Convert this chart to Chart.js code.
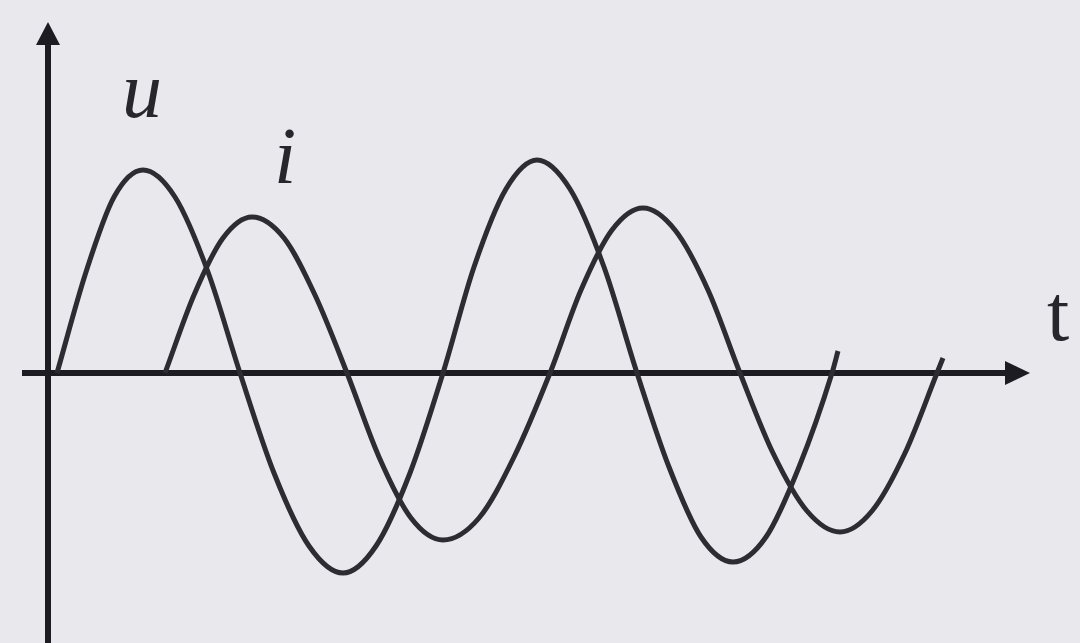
<!DOCTYPE html>
<html>
<head>
<meta charset="utf-8">
<script src="https://cdn.jsdelivr.net/npm/chart.js@4/dist/chart.umd.min.js"></script>
<style>
  html, body { margin: 0; padding: 0; background: #e9e9ed; }
  #wrap { width: 1080px; height: 643px; }
</style>
</head>
<body>
<div id="wrap"><canvas id="c" width="1080" height="643"></canvas></div>
<script>
// time (t) and values (origin at the axes crossing)
const uT = [9, 38, 66, 95, 127, 160, 192, 226, 261, 295, 328, 362, 395, 426, 458, 489, 522, 556, 589, 621, 653, 685, 718, 751, 784, 790];
const uV = [0, 101, 176, 203, 176, 101, 0, -100, -173, -200, -173, -100, 0, 106, 184, 213, 184, 106, 0, -94, -164, -189, -164, -94, 0, 22];
const iT = [117, 146, 175, 204, 236, 267, 299, 331, 363, 395, 431, 466, 502, 533, 564, 595, 627, 660, 692, 725, 759, 792, 824, 857, 889, 895];
const iV = [0, 78, 135, 156, 135, 78, 0, -84, -145, -167, -145, -84, 0, 83, 143, 165, 143, 83, 0, -80, -138, -159, -138, -80, 0, 15];
// axis ranges (data units)
const tMin = -48, tMax = 1032, vMin = -270, vMax = 373;
const yAxisTop = 351, xAxisLeft = -26, xAxisRight = 982;
const labels = [
  { text: 'u', t: 94, v: 256, italic: true },
  { text: 'i', t: 237, v: 190, italic: true },
  { text: 't', t: 1010, v: 33, italic: false }
];

const toPts = (xs, ys) => xs.map((x, k) => ({ x: x, y: ys[k] }));

const axesPlugin = {
  id: 'axesPlugin',
  beforeDraw(chart) {
    const { ctx } = chart;
    ctx.save();
    ctx.fillStyle = '#e9e9ed';
    ctx.fillRect(0, 0, chart.width, chart.height);
    ctx.restore();
  },
  beforeDatasetsDraw(chart) {
    const { ctx, scales: { x, y } } = chart;
    const x0 = x.getPixelForValue(0), y0 = y.getPixelForValue(0);
    ctx.save();
    ctx.strokeStyle = '#1c1c22';
    ctx.fillStyle = '#1c1c22';
    ctx.lineWidth = 6;
    // vertical axis
    const yTop = y.getPixelForValue(yAxisTop);
    ctx.beginPath();
    ctx.moveTo(x0, y.getPixelForValue(vMin));
    ctx.lineTo(x0, yTop + 18);
    ctx.stroke();
    ctx.beginPath();
    ctx.moveTo(x0, yTop);
    ctx.lineTo(x0 - 12, yTop + 23);
    ctx.lineTo(x0 + 12, yTop + 23);
    ctx.closePath();
    ctx.fill();
    // horizontal axis
    const xR = x.getPixelForValue(xAxisRight);
    ctx.beginPath();
    ctx.moveTo(x.getPixelForValue(xAxisLeft), y0);
    ctx.lineTo(xR - 18, y0);
    ctx.stroke();
    ctx.beginPath();
    ctx.moveTo(xR, y0);
    ctx.lineTo(xR - 25, y0 - 12);
    ctx.lineTo(xR - 25, y0 + 12);
    ctx.closePath();
    ctx.fill();
    ctx.restore();
  },
  afterDatasetsDraw(chart) {
    const { ctx, scales: { x, y } } = chart;
    ctx.save();
    ctx.fillStyle = '#26262c';
    ctx.textAlign = 'center';
    ctx.textBaseline = 'alphabetic';
    labels.forEach(l => {
      ctx.font = (l.italic ? 'italic ' : '') + '80px "Liberation Serif", "DejaVu Serif", serif';
      ctx.fillText(l.text, x.getPixelForValue(l.t), y.getPixelForValue(l.v));
    });
    ctx.restore();
  }
};

new Chart(document.getElementById('c'), {
  type: 'line',
  data: {
    datasets: [
      { label: 'u', data: toPts(uT, uV), borderColor: '#2c2c32', borderWidth: 5, pointRadius: 0, cubicInterpolationMode: 'monotone', fill: false },
      { label: 'i', data: toPts(iT, iV), borderColor: '#2c2c32', borderWidth: 5, pointRadius: 0, cubicInterpolationMode: 'monotone', fill: false }
    ]
  },
  options: {
    responsive: false,
    animation: false,
    layout: { padding: 0 },
    plugins: { legend: { display: false }, tooltip: { enabled: false } },
    scales: {
      x: { type: 'linear', min: tMin, max: tMax, display: false },
      y: { type: 'linear', min: vMin, max: vMax, display: false }
    }
  },
  plugins: [axesPlugin]
});
</script>
</body>
</html>
